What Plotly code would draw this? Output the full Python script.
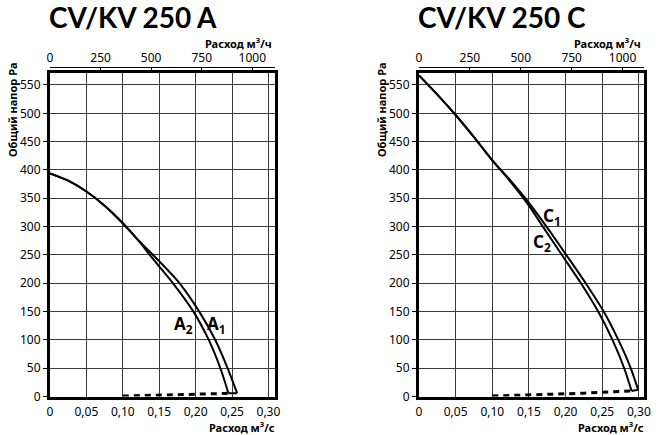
import plotly.graph_objects as go

W, H = 660, 435

# ---------------- data ----------------
# Chart A (left)
a1_q = [0, 0.025, 0.05, 0.075, 0.10, 0.125, 0.14, 0.178, 0.205, 0.227, 0.244, 0.257]
a1_p = [394, 381, 362, 337, 306, 271, 252, 200, 150, 100, 50, 6]
a2_q = [0, 0.025, 0.05, 0.075, 0.10, 0.125, 0.137, 0.169, 0.197, 0.218, 0.234, 0.245]
a2_p = [394, 381, 362, 337, 306, 270, 250, 200, 150, 100, 50, 6]
a_sys_q = [0.10, 0.125, 0.15, 0.175, 0.20, 0.225, 0.245]
a_sys_p = [1, 1.6, 2.3, 3.1, 4, 5, 6]

# Chart C (right)
c1_q = [0, 0.025, 0.05, 0.075, 0.10, 0.125, 0.15, 0.174, 0.201, 0.2275, 0.252, 0.272, 0.289, 0.299]
c1_p = [567, 533, 497, 458, 417, 381, 342, 300, 250, 200, 150, 100, 50, 12]
c2_q = [0, 0.025, 0.05, 0.075, 0.10, 0.125, 0.15, 0.169, 0.195, 0.221, 0.2445, 0.264, 0.280, 0.290]
c2_p = [567, 533, 497, 458, 417, 379, 337, 300, 250, 200, 150, 100, 50, 10]
c_sys_q = [0.10, 0.125, 0.15, 0.175, 0.20, 0.225, 0.25, 0.275, 0.29]
c_sys_p = [1, 1.8, 2.6, 3.6, 4.8, 6, 7.5, 9, 10]

# Axis ticks
q_ticks = [0, 0.05, 0.10, 0.15, 0.20, 0.25, 0.30]
q_labels = ["0", "0,05", "0,10", "0,15", "0,20", "0,25", "0,30"]
p_ticks = [0, 50, 100, 150, 200, 250, 300, 350, 400, 450, 500, 550]
p_labels = [str(v) for v in p_ticks]
h_ticks = [0, 250, 500, 750, 1000]
h_labels = ["0", "250", "500", "750", "1000"]

titles = ["CV/KV 250 A", "CV/KV 250 C"]
ylabel = "Общий напор Pa"
xlabel_bottom = "Расход м<sup>3</sup>/с"
xlabel_top = "Расход м<sup>3</sup>/ч"

# ---------------- layout geometry ----------------
def px(x):
    return x / W

def py(y):
    return 1 - y / H

left_dom = [px(50), px(275)]
right_dom = [px(419), px(644)]
y_dom = [py(396.6), py(72.5)]
left_range = [0, 0.309]
right_range = [0, 0.307]
p_range = [0, 572]
top_pos = py(66.5)

FONT = "Noto Sans"
BOLD = "Lato"

fig = go.Figure()

line_style = dict(color="black", width=2, shape="spline", smoothing=0.8)
dash_style = dict(color="black", width=3, dash="6px,5px")

def add_chart(xa, ya, c_q1, c_p1, c_q2, c_p2, s_q, s_p):
    fig.add_trace(go.Scatter(x=c_q1, y=c_p1, mode="lines", line=line_style,
                             xaxis=xa, yaxis=ya, showlegend=False, hoverinfo="skip"))
    fig.add_trace(go.Scatter(x=c_q2, y=c_p2, mode="lines", line=line_style,
                             xaxis=xa, yaxis=ya, showlegend=False, hoverinfo="skip"))
    fig.add_trace(go.Scatter(x=[c_q2[-1], c_q1[-1]], y=[c_p2[-1], c_p1[-1]], mode="lines",
                             line=dict(color="black", width=2),
                             xaxis=xa, yaxis=ya, showlegend=False, hoverinfo="skip"))
    fig.add_trace(go.Scatter(x=s_q, y=s_p, mode="lines", line=dash_style,
                             xaxis=xa, yaxis=ya, showlegend=False, hoverinfo="skip"))

add_chart("x", "y", a1_q, a1_p, a2_q, a2_p, a_sys_q, a_sys_p)
add_chart("x3", "y3", c1_q, c1_p, c2_q, c2_p, c_sys_q, c_sys_p)

# invisible traces to carry the top (m3/h) axes
fig.add_trace(go.Scatter(x=[0, left_range[1] * 3600], y=[None, None], xaxis="x2", yaxis="y",
                         mode="lines", showlegend=False, hoverinfo="skip"))
fig.add_trace(go.Scatter(x=[0, right_range[1] * 3600], y=[None, None], xaxis="x4", yaxis="y3",
                         mode="lines", showlegend=False, hoverinfo="skip"))

tick_font = dict(family=FONT, size=12, color="black")

def bottom_axis(dom, rng, anchor):
    return dict(domain=dom, range=rng, anchor=anchor, tickvals=q_ticks, ticktext=q_labels,
                showgrid=True, gridcolor="#3a3a3a", gridwidth=1, zeroline=False,
                showline=True, linecolor="black", linewidth=3, mirror=True,
                ticks="outside", ticklen=2, tickcolor="rgba(0,0,0,0)",
                tickfont=tick_font, automargin=False)

def left_axis(anchor):
    return dict(domain=y_dom, range=p_range, anchor=anchor, tickvals=p_ticks, ticktext=p_labels,
                showgrid=True, gridcolor="#3a3a3a", gridwidth=1, zeroline=False,
                showline=True, linecolor="black", linewidth=3, mirror=True,
                ticks="outside", ticklen=4, tickwidth=1, tickcolor="black", tickfont=tick_font,
                automargin=False)

def top_axis(dom, rng, overlay):
    return dict(domain=dom, range=[rng[0] * 3600, rng[1] * 3600], overlaying=overlay,
                side="top", anchor="free", position=top_pos,
                tickvals=h_ticks, ticktext=h_labels, showgrid=False, zeroline=False,
                showline=True, linecolor="black", linewidth=1,
                ticks="inside", ticklen=5, tickwidth=1, tickcolor="black", tickfont=tick_font,
                automargin=False)

annotations = []
for i, dom in enumerate([left_dom, right_dom]):
    left_px = dom[0] * W
    right_px = dom[1] * W
    annotations.append(dict(text="<b>" + titles[i] + "</b>", xref="paper", yref="paper",
                            x=px(left_px - 3), y=py(17), xanchor="left", yanchor="middle",
                            showarrow=False, font=dict(family=BOLD, size=28, color="black", weight=900)))
    annotations.append(dict(text="<b>" + xlabel_top + "</b>", xref="paper", yref="paper",
                            x=px(right_px - 1), y=py(43), xanchor="right", yanchor="middle",
                            showarrow=False, font=dict(family=FONT, size=11, color="black")))
    annotations.append(dict(text="<b>" + xlabel_bottom + "</b>", xref="paper", yref="paper",
                            x=px(right_px + 2), y=py(427), xanchor="right", yanchor="middle",
                            showarrow=False, font=dict(family=FONT, size=11, color="black")))
    annotations.append(dict(text="<b>" + ylabel + "</b>", xref="paper", yref="paper",
                            x=px(left_px - 38), y=py(110), xanchor="center", yanchor="middle",
                            textangle=-90, showarrow=False,
                            font=dict(family=FONT, size=11, color="black")))

curve_font = dict(family=FONT, size=17, color="black")
annotations += [
    dict(text="<b>A<sub>2</sub></b>", x=0.183, y=128, xref="x", yref="y", showarrow=False, font=curve_font),
    dict(text="<b>A<sub>1</sub></b>", x=0.229, y=128, xref="x", yref="y", showarrow=False, font=curve_font),
    dict(text="<b>C<sub>1</sub></b>", x=0.181, y=318, xref="x3", yref="y3", showarrow=False, font=curve_font),
    dict(text="<b>C<sub>2</sub></b>", x=0.168, y=272, xref="x3", yref="y3", showarrow=False, font=curve_font),
]

fig.update_layout(
    width=W, height=H, margin=dict(l=0, r=0, t=0, b=0, autoexpand=False),
    paper_bgcolor="white", plot_bgcolor="white",
    xaxis=bottom_axis(left_dom, left_range, "y"),
    yaxis=left_axis("x"),
    xaxis2=top_axis(left_dom, left_range, "x"),
    xaxis3=bottom_axis(right_dom, right_range, "y3"),
    yaxis3=left_axis("x3"),
    xaxis4=top_axis(right_dom, right_range, "x3"),
    annotations=annotations,
    showlegend=False,
)

fig.write_html("out.html")
